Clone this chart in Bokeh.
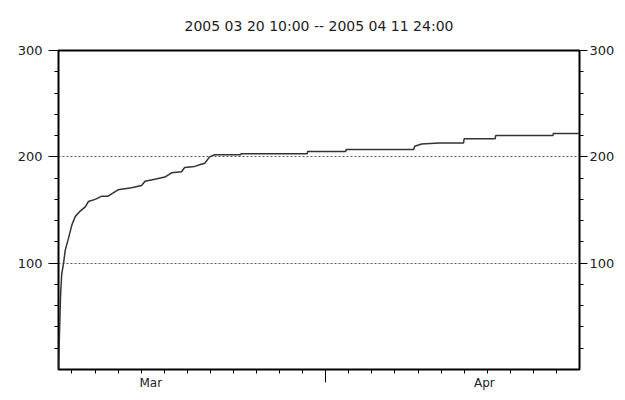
import pandas as pd
from bokeh.plotting import figure
from bokeh.models import Range1d, LinearAxis, FixedTicker
from bokeh.embed import file_html
from bokeh.resources import INLINE

# ---- data ----
start_time = "2005-03-20 10:00"
end_time = "2005-04-12 00:00"
subtitle = "2005 03 20 10:00 -- 2005 04 11 24:00"

days_since_start = [0.00, 0.02, 0.05, 0.09, 0.14, 0.22, 0.29, 0.44, 0.58, 0.73,
                    0.94, 1.16, 1.30, 1.59, 1.88, 2.15, 2.58, 3.17, 3.60, 3.75,
                    4.18, 4.61, 4.90, 5.33, 5.47, 5.90, 6.19, 6.34, 6.55, 6.77,
                    7.90, 7.92, 10.78, 10.80, 12.45, 12.47, 15.40, 15.44, 15.74, 16.48,
                    17.56, 17.58, 18.93, 18.95, 21.43, 21.45, 22.55]
cumulative_count = [0, 15, 40, 70, 90, 100, 112, 124, 136, 144,
                    149, 153, 158, 160, 163, 163, 169, 171, 173, 177,
                    179, 181, 185, 186, 190, 191, 193, 194, 200, 202,
                    202, 203, 203, 205, 205, 207, 207, 210, 212, 213,
                    213, 217, 217, 220, 220, 222, 222]

y_major_ticks = [100, 200, 300]
y_grid_values = [100, 200]
y_minor_ticks = [20, 40, 60, 80, 120, 140, 160, 180, 220, 240, 260, 280]
month_boundary = "2005-04-01 00:00"
month_labels = ["Mar", "Apr"]
month_label_times = ["2005-03-24 10:00", "2005-04-07 21:00"]


def ms(ts):
    return int(pd.Timestamp(ts).value // 10**6)


times = pd.Timestamp(start_time) + pd.to_timedelta(days_since_start, unit="D")
x_ms = [int(v.value // 10**6) for v in times]

day_ticks = [ms(d) for d in pd.date_range("2005-03-21", "2005-04-11", freq="D")]

p = figure(width=617, height=392, output_backend="svg", toolbar_location=None,
           x_range=Range1d(ms(start_time), ms(end_time)),
           y_range=Range1d(0, 300),
           min_border_left=58, min_border_right=34, min_border_top=50,
           min_border_bottom=22)

p.background_fill_color = "white"
p.border_fill_color = "white"
p.outline_line_color = "black"
p.outline_line_width = 2

# title (subtitle line)
p.title.text = subtitle
p.title.align = "center"
p.title.vertical_align = "top"
p.title.text_font = "DejaVu Sans"
p.title.text_font_size = "14px"
p.title.text_font_style = "normal"
p.title.text_color = "#222222"
p.title.standoff = 29

# grid
p.xgrid.visible = False
p.ygrid.ticker = FixedTicker(ticks=y_grid_values)
p.ygrid.grid_line_color = "#555555"
p.ygrid.grid_line_dash = "2 2"
p.ygrid.grid_line_width = 1

# bottom tick axis (month boundary tick + daily ticks)
xa = p.xaxis[0]
xa.ticker = FixedTicker(ticks=[ms(month_boundary)], minor_ticks=day_ticks)
xa.major_label_overrides = {ms(month_boundary): ""}
xa.major_label_text_font_size = "1px"
xa.major_label_standoff = 0
xa.major_tick_out = 13
xa.major_tick_in = 0
xa.minor_tick_out = 4
xa.minor_tick_in = 0
xa.axis_line_color = None
xa.major_tick_line_color = "black"
xa.minor_tick_line_color = "black"

# month label axis
lab = LinearAxis(ticker=FixedTicker(ticks=[ms(t) for t in month_label_times]),
                 major_label_overrides={ms(t): s for t, s in zip(month_label_times, month_labels)})
lab.axis_line_color = None
lab.major_tick_line_color = None
lab.minor_tick_line_color = None
lab.major_tick_out = 0
lab.major_tick_in = 0
lab.major_label_standoff = -7
lab.major_label_text_font = "DejaVu Sans"
lab.major_label_text_font_size = "12px"
lab.major_label_text_color = "#222222"
p.add_layout(lab, "below")


# y axes
def style_y(ax, tick_out, standoff):
    ax.ticker = FixedTicker(ticks=y_major_ticks, minor_ticks=y_minor_ticks)
    ax.axis_line_color = None
    ax.major_tick_out = tick_out
    ax.major_tick_in = 0
    ax.minor_tick_out = 4
    ax.minor_tick_in = 0
    ax.major_tick_line_color = "black"
    ax.minor_tick_line_color = "black"
    ax.major_label_standoff = standoff
    ax.major_label_text_font = "DejaVu Sans"
    ax.major_label_text_font_size = "13px"
    ax.major_label_text_color = "#222222"
    ax.major_label_orientation = "horizontal"


style_y(p.yaxis[0], 10, 6)
ry = LinearAxis()
style_y(ry, 8, 2)
p.add_layout(ry, "right")

p.line(x_ms, cumulative_count, line_color="#333333", line_width=1.5)

open("out.html", "w").write(file_html(p, INLINE))
